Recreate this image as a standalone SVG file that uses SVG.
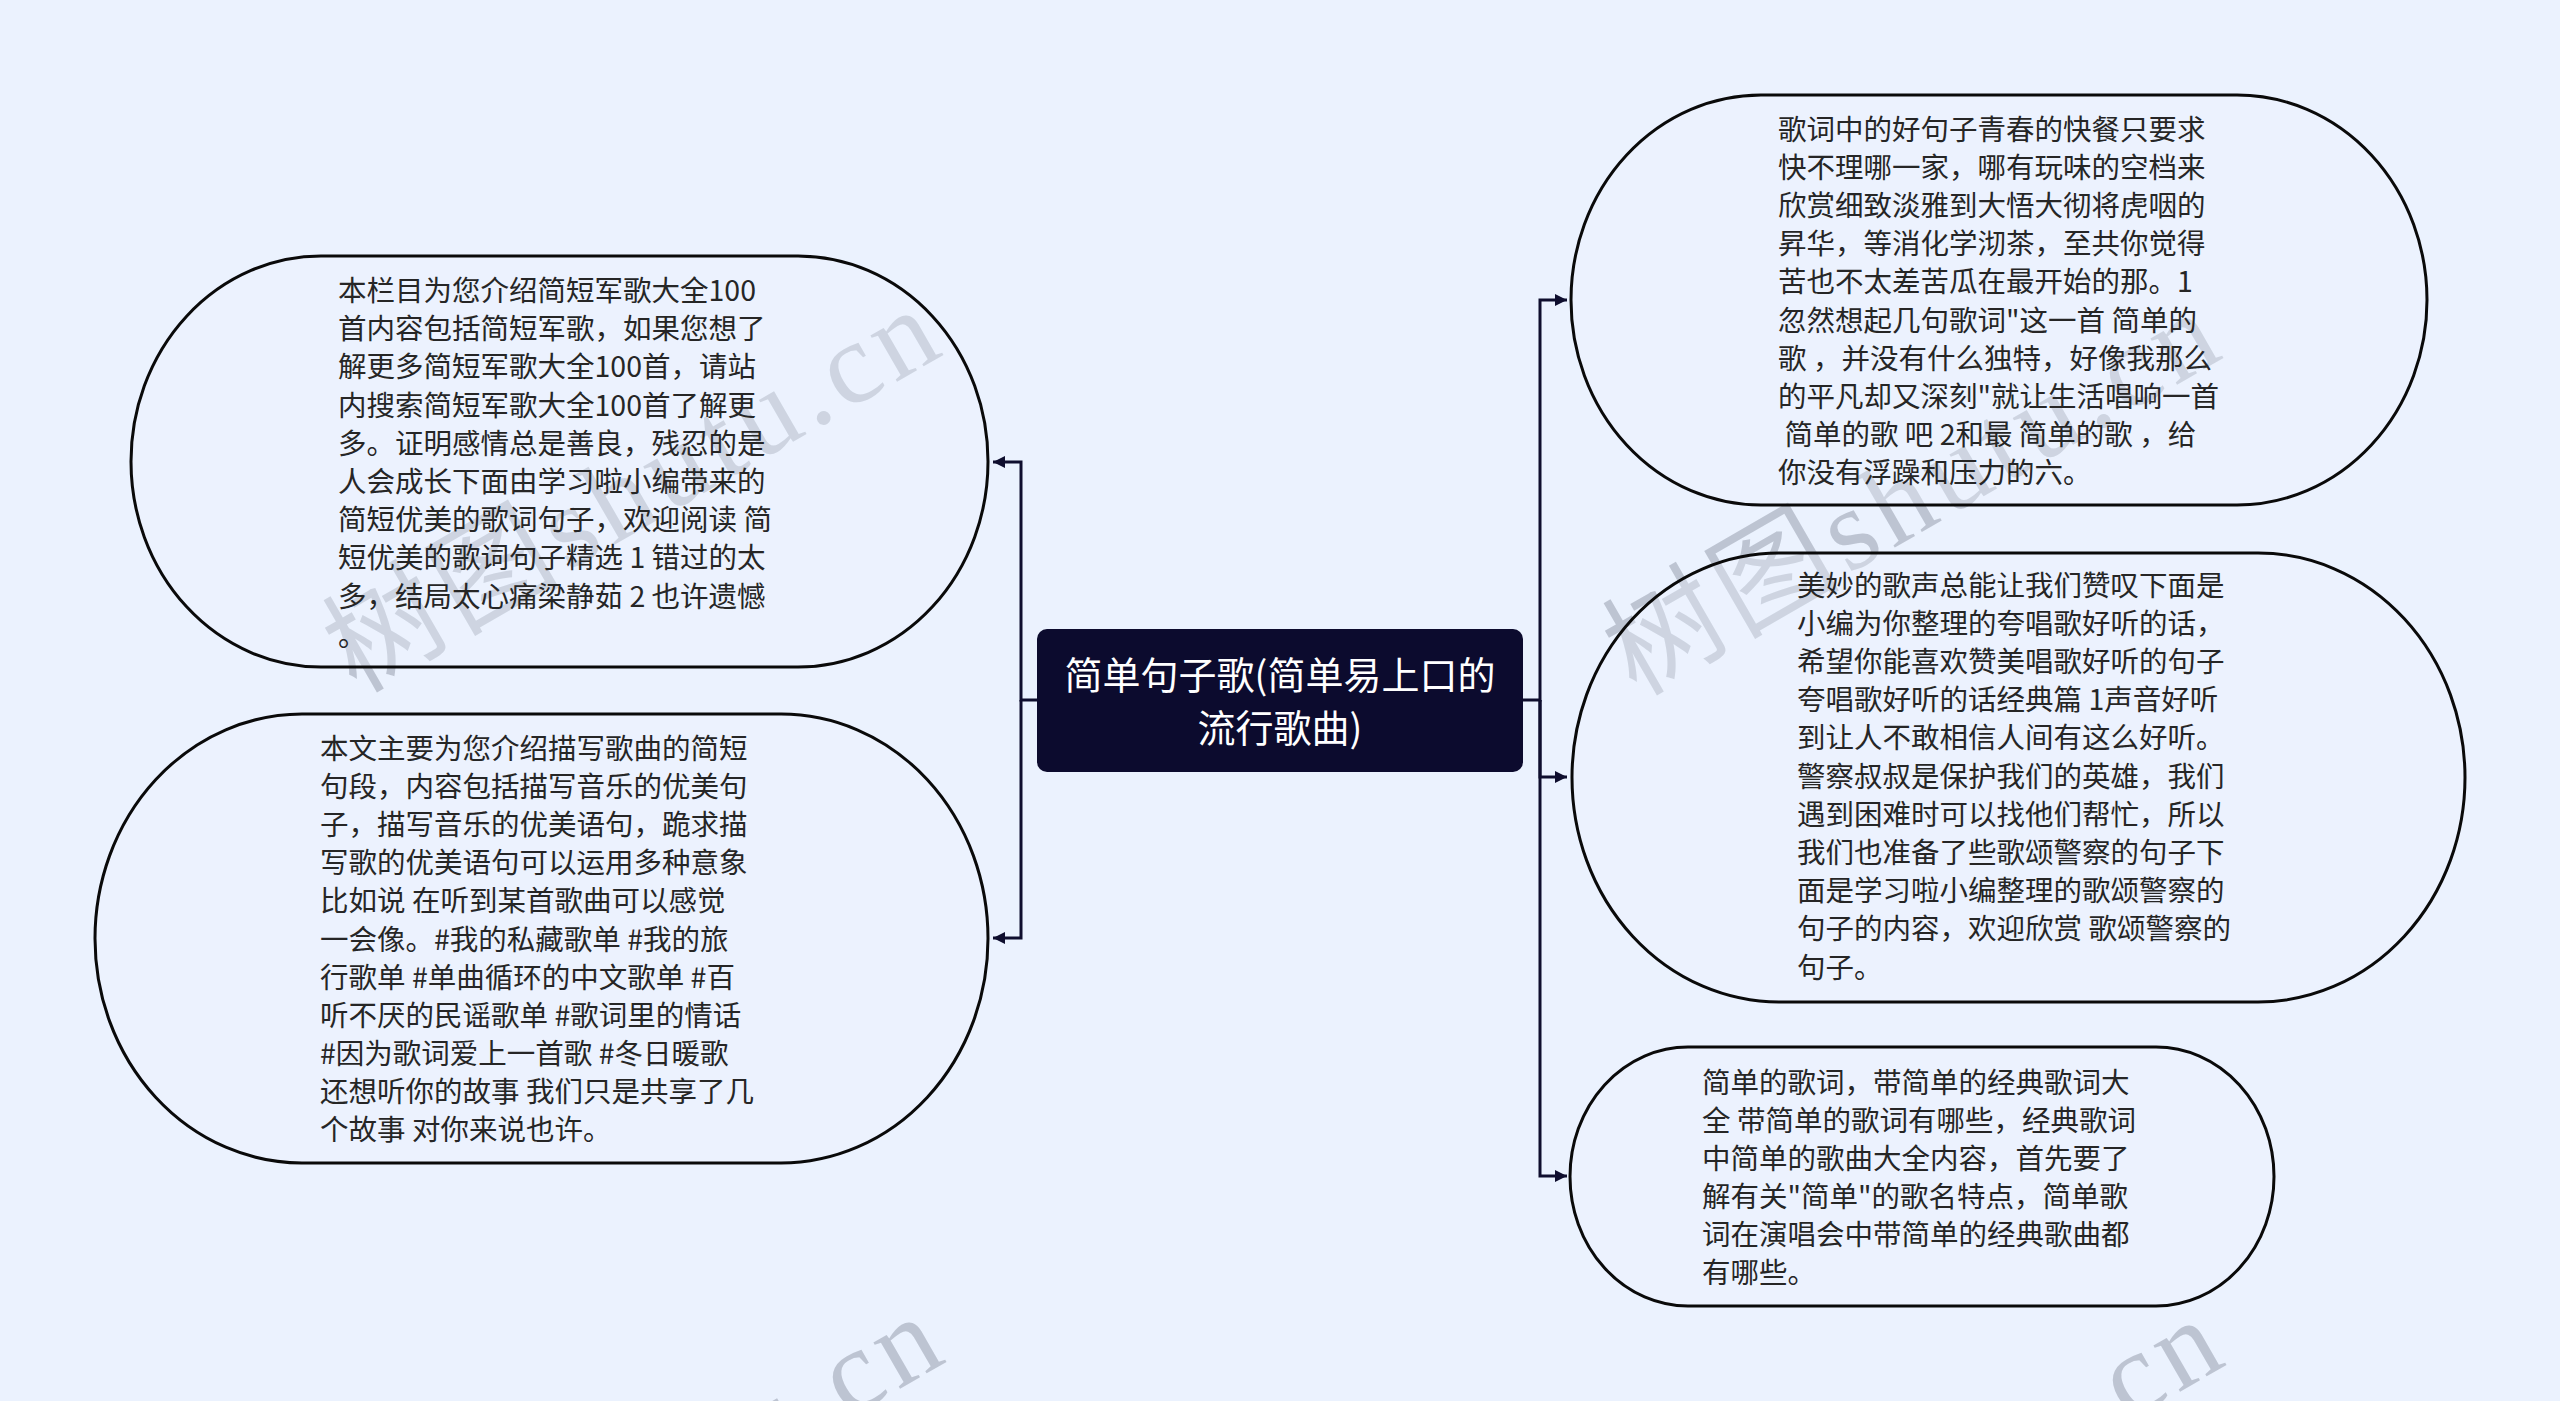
<svg xmlns="http://www.w3.org/2000/svg" width="2560" height="1401" viewBox="0 0 2560 1401">
<style>
.bg{fill:#ebf2fe}
.wm{font-family:"Liberation Serif","Noto Sans CJK SC",serif;font-size:116px;fill:#a9b0bf;fill-opacity:0.7}
.node{fill:#edf3fe;fill-opacity:0.35;stroke:#0a0a0a;stroke-width:3}
.txt{font-family:"Noto Sans CJK SC","Noto Sans CJK TC",sans-serif;font-size:28.5px;fill:#262626}
.center-box{fill:#0c0b2e}
.center-txt{font-family:"Noto Sans CJK SC","Noto Sans CJK TC",sans-serif;font-size:38px;fill:#ffffff;text-anchor:middle}
.conn{fill:none;stroke:#0f0e2e;stroke-width:3}
</style>
<defs>
<marker id="arr" viewBox="0 0 10 10" refX="10" refY="5" markerWidth="12" markerHeight="12" markerUnits="userSpaceOnUse" orient="auto">
<path d="M0,0 L10,5 L0,10 z" fill="#0f0e2e"/>
</marker>
</defs>
<rect class="bg" x="0" y="0" width="2560" height="1401"/>

<g id="watermark">
<text class="wm" x="356" y="694" textLength="680" lengthAdjust="spacing" transform="rotate(-30 356 694)">树图shutu.cn</text>
<text class="wm" x="1636" y="697" textLength="680" lengthAdjust="spacing" transform="rotate(-30 1636 697)">树图shutu.cn</text>
<text class="wm" x="359" y="1701" textLength="680" lengthAdjust="spacing" transform="rotate(-30 359 1701)">树图shutu.cn</text>
<text class="wm" x="1639" y="1704" textLength="680" lengthAdjust="spacing" transform="rotate(-30 1639 1704)">树图shutu.cn</text>
</g>

<g id="connectors">
<path class="conn" d="M1037,700 H1021 V462 H993" marker-end="url(#arr)"/>
<path class="conn" d="M1021,700 V938 H993" marker-end="url(#arr)"/>
<path class="conn" d="M1523,700 H1540 V300 H1567" marker-end="url(#arr)"/>
<path class="conn" d="M1540,700 V777 H1567" marker-end="url(#arr)"/>
<path class="conn" d="M1540,700 V1176 H1567" marker-end="url(#arr)"/>
</g>

<g id="center">
<rect class="center-box" x="1037" y="629" width="486" height="143" rx="10" ry="10"/>
<text class="center-txt" x="1280" y="689">简单句子歌(简单易上口的</text>
<text class="center-txt" x="1280" y="742">流行歌曲)</text>
</g>

<g id="node-l1">
<rect class="node" x="131" y="256" width="857" height="411" rx="190" ry="205.5"/>
<text class="txt" x="338" y="301">本栏目为您介绍简短军歌大全100</text>
<text class="txt" x="338" y="339.2">首内容包括简短军歌，如果您想了</text>
<text class="txt" x="338" y="377.4">解更多简短军歌大全100首，请站</text>
<text class="txt" x="338" y="415.6">内搜索简短军歌大全100首了解更</text>
<text class="txt" x="338" y="453.8">多。证明感情总是善良，残忍的是</text>
<text class="txt" x="338" y="492">人会成长下面由学习啦小编带来的</text>
<text class="txt" x="338" y="530.2">简短优美的歌词句子，欢迎阅读 简</text>
<text class="txt" x="338" y="568.4">短优美的歌词句子精选 1 错过的太</text>
<text class="txt" x="338" y="606.6">多，结局太心痛梁静茹 2 也许遗憾</text>
<text class="txt" x="338" y="645.8">。</text>
</g>

<g id="node-l2">
<rect class="node" x="95" y="714" width="893" height="449" rx="207" ry="224.5"/>
<text class="txt" x="320" y="759">本文主要为您介绍描写歌曲的简短</text>
<text class="txt" x="320" y="797.1">句段，内容包括描写音乐的优美句</text>
<text class="txt" x="320" y="835.2">子，描写音乐的优美语句，跪求描</text>
<text class="txt" x="320" y="873.3">写歌的优美语句可以运用多种意象</text>
<text class="txt" x="320" y="911.4">比如说 在听到某首歌曲可以感觉</text>
<text class="txt" x="320" y="949.5">一会像。#我的私藏歌单 #我的旅</text>
<text class="txt" x="320" y="987.6">行歌单 #单曲循环的中文歌单 #百</text>
<text class="txt" x="320" y="1025.7">听不厌的民谣歌单 #歌词里的情话</text>
<text class="txt" x="320" y="1063.8">#因为歌词爱上一首歌 #冬日暖歌</text>
<text class="txt" x="320" y="1101.9">还想听你的故事 我们只是共享了几</text>
<text class="txt" x="320" y="1140">个故事 对你来说也许。</text>
</g>

<g id="node-r1">
<rect class="node" x="1571" y="95" width="856" height="410" rx="190" ry="205"/>
<text class="txt" x="1778" y="139.5">歌词中的好句子青春的快餐只要求</text>
<text class="txt" x="1778" y="177.7">快不理哪一家，哪有玩味的空档来</text>
<text class="txt" x="1778" y="215.9">欣赏细致淡雅到大悟大彻将虎咽的</text>
<text class="txt" x="1778" y="254.1">昇华，等消化学沏茶，至共你觉得</text>
<text class="txt" x="1778" y="292.3">苦也不太差苦瓜在最开始的那。1</text>
<text class="txt" x="1778" y="330.5">忽然想起几句歌词"这一首 简单的</text>
<text class="txt" x="1778" y="368.7">歌 ，并没有什么独特，好像我那么</text>
<text class="txt" x="1778" y="406.9">的平凡却又深刻"就让生活唱响一首</text>
<text class="txt" x="1778" y="445.1" xml:space="preserve"> 简单的歌 吧 2和最 简单的歌 ，给</text>
<text class="txt" x="1778" y="483.3">你没有浮躁和压力的六。</text>
</g>

<g id="node-r2">
<rect class="node" x="1572" y="553" width="893" height="449" rx="207" ry="224.5"/>
<text class="txt" x="1797" y="595.5">美妙的歌声总能让我们赞叹下面是</text>
<text class="txt" x="1797" y="633.7">小编为你整理的夸唱歌好听的话，</text>
<text class="txt" x="1797" y="671.9">希望你能喜欢赞美唱歌好听的句子</text>
<text class="txt" x="1797" y="710.1">夸唱歌好听的话经典篇 1声音好听</text>
<text class="txt" x="1797" y="748.3">到让人不敢相信人间有这么好听。</text>
<text class="txt" x="1797" y="786.5">警察叔叔是保护我们的英雄，我们</text>
<text class="txt" x="1797" y="824.7">遇到困难时可以找他们帮忙，所以</text>
<text class="txt" x="1797" y="862.9">我们也准备了些歌颂警察的句子下</text>
<text class="txt" x="1797" y="901.1">面是学习啦小编整理的歌颂警察的</text>
<text class="txt" x="1797" y="939.3">句子的内容，欢迎欣赏 歌颂警察的</text>
<text class="txt" x="1797" y="977.5">句子。</text>
</g>

<g id="node-r3">
<rect class="node" x="1570" y="1047" width="704" height="259" rx="118" ry="129.5"/>
<text class="txt" x="1702" y="1092.5">简单的歌词，带简单的经典歌词大</text>
<text class="txt" x="1702" y="1130.6">全 带简单的歌词有哪些，经典歌词</text>
<text class="txt" x="1702" y="1168.7">中简单的歌曲大全内容，首先要了</text>
<text class="txt" x="1702" y="1206.8">解有关"简单"的歌名特点，简单歌</text>
<text class="txt" x="1702" y="1244.9">词在演唱会中带简单的经典歌曲都</text>
<text class="txt" x="1702" y="1283">有哪些。</text>
</g>
</svg>
